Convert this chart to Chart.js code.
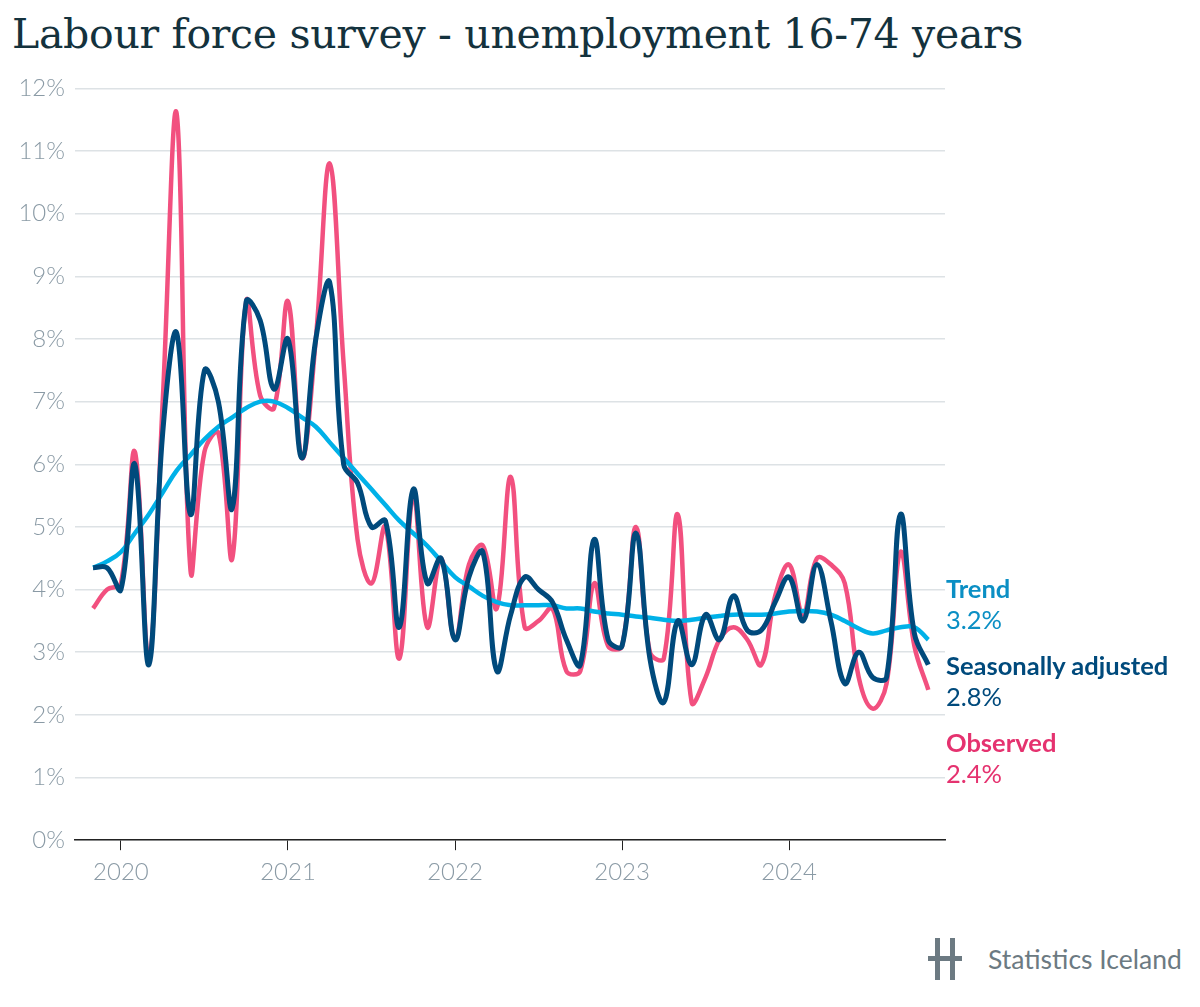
<!DOCTYPE html>
<html><head><meta charset="utf-8">
<script src="https://cdn.jsdelivr.net/npm/chart.js@4"></script>
<style>
body{margin:0;background:#fff;width:1200px;height:1007px;position:relative;font-family:Lato,sans-serif;overflow:hidden}
#title{position:absolute;left:12px;top:10px;font-family:"DejaVu Serif",serif;font-size:41px;color:#14323d;letter-spacing:-0.3px}
#wrap{position:absolute;left:0;top:64px;width:960px;height:840px}
.lab{position:absolute;left:946px;font-size:25.5px;line-height:31px}
#logo{position:absolute;left:928px;top:936px;display:flex;align-items:center;color:#6c7a82;font-size:26.5px}
</style></head><body>
<div id="title">Labour force survey - unemployment 16-74 years</div>
<div id="wrap"><canvas id="c" width="960" height="831"></canvas></div>
<div class="lab" style="top:573px;color:#0b8fc4"><b>Trend</b><br>3.2%</div>
<div class="lab" style="top:650px;color:#004a7c"><b>Seasonally adjusted</b><br>2.8%</div>
<div class="lab" style="top:727px;color:#e5326f"><b>Observed</b><br>2.4%</div>
<div id="logo"><svg width="36" height="46" viewBox="0 0 36 46"><rect x="7" y="2" width="5" height="42" fill="#6c7a82"/><rect x="22" y="2" width="5" height="42" fill="#6c7a82"/><rect x="0" y="20" width="34" height="5" fill="#6c7a82"/></svg><span style="margin-left:24px">Statistics Iceland</span></div>
<script>
const months=[];
const mn=['Jan','Feb','Mar','Apr','May','Jun','Jul','Aug','Sep','Oct','Nov','Dec'];
for(let y=2019,m=10;!(y===2024&&m===11);){months.push(mn[m]+' '+y);m++;if(m===12){m=0;y++;}}
const observed=[3.7,4.0,4.1,6.2,2.9,7.0,11.6,4.3,6.2,6.5,4.5,8.6,7.1,6.9,8.6,6.1,8.0,10.8,7.6,4.8,4.1,5.0,2.9,5.5,3.4,4.5,3.2,4.4,4.7,3.7,5.8,3.4,3.5,3.7,2.7,2.7,4.1,3.1,3.1,5.0,3.0,2.9,5.2,2.2,2.6,3.2,3.4,3.2,2.8,3.9,4.4,3.6,4.5,4.4,4.1,2.6,2.1,2.5,4.6,3.1,2.4];
const seasonal=[4.35,4.35,4.0,6.0,2.8,6.5,8.1,5.2,7.5,7.0,5.3,8.6,8.3,7.2,8.0,6.1,8.0,8.9,6.0,5.7,5.0,5.1,3.4,5.6,4.1,4.5,3.2,4.2,4.6,2.7,3.6,4.2,4.0,3.8,3.2,2.8,4.8,3.2,3.1,4.9,2.9,2.2,3.5,2.8,3.6,3.2,3.9,3.35,3.35,3.8,4.2,3.5,4.4,3.5,2.5,3.0,2.6,2.6,5.2,3.3,2.8];
const trend=[4.35,4.45,4.6,4.9,5.2,5.55,5.9,6.15,6.4,6.6,6.75,6.9,7.0,7.0,6.9,6.75,6.6,6.35,6.1,5.85,5.6,5.35,5.1,4.9,4.7,4.45,4.2,4.05,3.9,3.8,3.75,3.75,3.75,3.75,3.7,3.7,3.65,3.62,3.6,3.57,3.55,3.52,3.5,3.52,3.55,3.58,3.6,3.6,3.6,3.62,3.65,3.66,3.65,3.6,3.5,3.38,3.3,3.35,3.4,3.4,3.2];
const gray='#8a9aa5';
const pts=a=>a.map((v,i)=>({x:i,y:v}));
const yearIdx=months.map((m,i)=>m.startsWith('Jan')?i:-1).filter(i=>i>=0);
new Chart(document.getElementById('c'),{type:'line',
data:{datasets:[
{data:pts(seasonal),borderColor:'#004a7c',borderWidth:5,pointRadius:0,tension:0.4},
{data:pts(trend),borderColor:'#00b1e8',borderWidth:4.5,pointRadius:0,tension:0.4},
{data:pts(observed),borderColor:'#f2507f',borderWidth:4.5,pointRadius:0,tension:0.4}]},
options:{responsive:false,animation:false,devicePixelRatio:1,
layout:{padding:{left:0,right:15,top:1,bottom:0}},
plugins:{legend:{display:false},tooltip:{enabled:false}},
scales:{
y:{min:0,max:12,afterFit:s=>{s.width=75},ticks:{stepSize:1,color:gray,font:{family:'Lato',size:24,weight:300},padding:10,callback:v=>v+'%'},
grid:{color:'#dde2e5',lineWidth:1.5,drawTicks:false},border:{display:false}},
x:{type:'linear',min:-1.3,max:61.2,afterBuildTicks:s=>{s.ticks=yearIdx.map(v=>({value:v}))},
ticks:{autoSkip:false,maxRotation:0,color:gray,font:{family:'Lato',size:24,weight:300},padding:8,
callback:v=>months[v]?months[v].slice(4):''},
grid:{drawOnChartArea:false,tickLength:10,color:'#222'},
border:{color:'#222',width:1.5}}}}});
</script>
</body></html>
